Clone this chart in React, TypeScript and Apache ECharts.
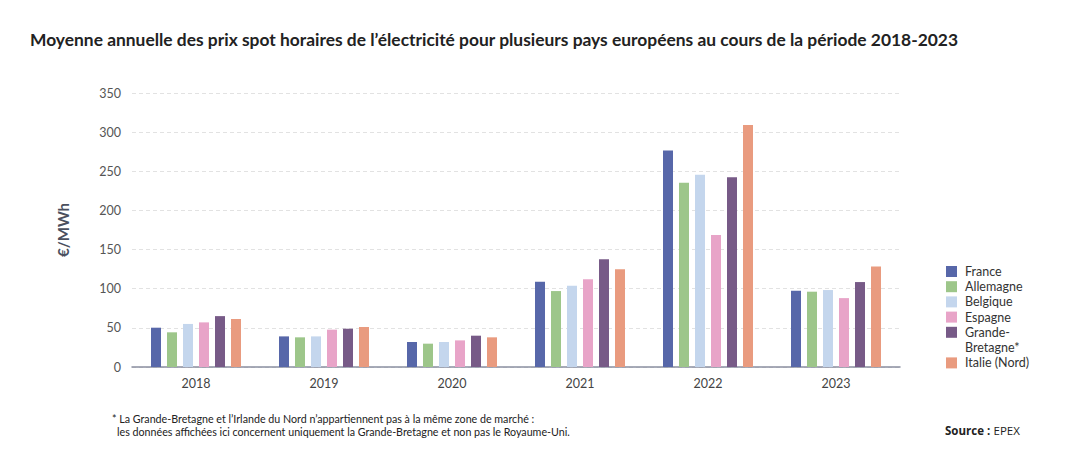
import React, { useEffect, useRef } from "react";
import * as echarts from "echarts";

const years = ["2018", "2019", "2020", "2021", "2022", "2023"];
const seriesNames = ["France", "Allemagne", "Belgique", "Espagne", "Grande-Bretagne*", "Italie (Nord)"];
const legendLabels = ["France", "Allemagne", "Belgique", "Espagne", "Grande-\nBretagne*", "Italie (Nord)"];
const colors = ["#5767A9", "#9DC68A", "#C4D6ED", "#E8A4C8", "#775A87", "#E99B7F"];

const france = [50.2, 39.1, 31.9, 109, 276.6, 97.4];
const allemagne = [44.3, 37.9, 29.8, 97, 235.5, 96.2];
const belgique = [55, 39.1, 31.9, 103.8, 245.5, 98.3];
const espagne = [57, 47.7, 34, 112, 168.5, 88];
const grandeBretagne = [65, 48.9, 40, 137.6, 242.5, 108.5];
const italieNord = [61.3, 51.1, 37.9, 124.8, 309, 128.5];

const allSeries = [france, allemagne, belgique, espagne, grandeBretagne, italieNord];

const yTicks = { min: 0, max: 350, interval: 50 };

const title = "Moyenne annuelle des prix spot horaires de l’électricité pour plusieurs pays européens au cours de la période 2018-2023";
const yName = "€/MWh";
const footnote1 = "* La Grande-Bretagne et l’Irlande du Nord n’appartiennent pas à la même zone de marché :";
const footnote2 = "les données affichées ici concernent uniquement la Grande-Bretagne et non pas le Royaume-Uni.";
const sourceLabel = "Source :";
const sourceName = "EPEX";

const FONT = "Lato, 'Open Sans', sans-serif";
const SRC_FONT = "'Open Sans', Lato, sans-serif";

export default function App() {
  const ref = useRef<HTMLDivElement>(null);
  useEffect(() => {
    document.body.style.margin = "0";
    if (!ref.current) return;
    const chart = echarts.init(ref.current, undefined, { renderer: "svg" });

    const legendGraphics: any[] = [];
    let y = 266;
    legendLabels.forEach((lab, i) => {
      legendGraphics.push({
        type: "rect",
        shape: { x: 946, y, width: 11, height: 11 },
        style: { fill: colors[i] },
      });
      legendGraphics.push({
        type: "text",
        x: 965,
        y: y - 2.1,
        style: {
          text: lab,
          fill: "#333",
          font: `12.5px ${FONT}`,
          lineHeight: 15.3,
          verticalAlign: "top",
        },
      });
      y += lab.includes("\n") ? 30.6 : 15.2;
    });

    chart.setOption({
      animation: false,
      textStyle: { fontFamily: FONT },
      grid: { left: 132, right: 190, top: 93, bottom: 100, containLabel: false },
      xAxis: {
        type: "category",
        data: years,
        axisTick: { show: false },
        axisLine: { lineStyle: { color: "#8A8FA0", width: 1.5 } },
        axisLabel: { color: "#444", fontSize: 12.5, margin: 10, fontFamily: FONT },
      },
      yAxis: {
        type: "value",
        min: yTicks.min,
        max: yTicks.max,
        interval: yTicks.interval,
        name: yName,
        nameLocation: "middle",
        nameGap: 62,
        nameRotate: 90,
        nameTextStyle: { color: "#4A4F5E", fontSize: 15, fontWeight: "bold", fontFamily: FONT },
        axisLine: { show: false },
        axisTick: { show: false },
        axisLabel: { color: "#555", fontSize: 12.5, margin: 11, fontFamily: FONT },
        splitLine: { lineStyle: { color: "#E2E2E2", type: [4, 3], width: 1 } },
      },
      series: allSeries.map((d, i) => ({
        name: seriesNames[i],
        type: "bar",
        data: d,
        barWidth: 10,
        barGap: "60%",
        itemStyle: { color: colors[i] },
      })),
      graphic: [
        {
          type: "text",
          left: 30,
          top: 31,
          style: { text: title, fill: "#222", font: `bold 17.4px ${FONT}` },
        },
        {
          type: "text",
          left: 112,
          top: 413,
          style: { text: footnote1, fill: "#222", font: `10.7px ${FONT}` },
        },
        {
          type: "text",
          left: 117,
          top: 426,
          style: { text: footnote2, fill: "#222", font: `10.7px ${FONT}` },
        },
        {
          type: "text",
          left: 945,
          top: 424,
          style: {
            text: `{b|${sourceLabel}} {r|${sourceName}}`,
            rich: {
              b: { fill: "#222", fontSize: 11.5, fontWeight: "bold", fontFamily: SRC_FONT },
              r: { fill: "#222", fontSize: 11.5, fontFamily: SRC_FONT },
            },
          } as any,
        },
        ...legendGraphics,
      ],
    });
    return () => chart.dispose();
  }, []);
  return <div ref={ref} style={{ width: 1090, height: 467 }} />;
}
